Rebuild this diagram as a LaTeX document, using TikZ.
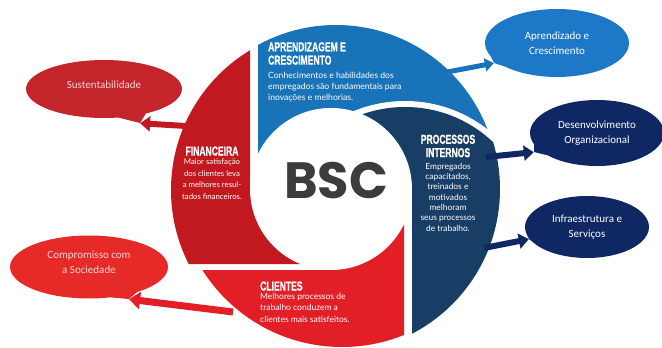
\documentclass[tikz,border=0pt]{standalone}
\usepackage{fontspec}
\usetikzlibrary{shapes.callouts,arrows.meta}
\newfontfamily\titlefont[FakeStretch=0.66,FakeBold=0.8]{Liberation Sans}
\newfontfamily\bodyfont{Lato}
\newfontfamily\bubblefont{Carlito}
\newfontfamily\bscfont{Poppins}
\definecolor{finred}{HTML}{C1191F}
\definecolor{clired}{HTML}{E21E26}
\definecolor{aprblue}{HTML}{1873B9}
\definecolor{prodark}{HTML}{183E65}
\definecolor{susred}{HTML}{C4252B}
\definecolor{comred}{HTML}{E52A27}
\definecolor{bubblue}{HTML}{1D78C8}
\definecolor{navy}{HTML}{0F2763}
\definecolor{bscgray}{HTML}{3C3C3C}
\definecolor{pinktext}{HTML}{F6D6D6}
\tikzset{
  ptitle/.style={font=\titlefont\bfseries\fontsize{13}{13.4}\selectfont, text=white, inner sep=0pt},
  pbody/.style={font=\bodyfont\fontsize{8.6}{11}\selectfont, text=white, inner sep=0pt},
  bubble/.style={ellipse callout, callout pointer arc=22, inner sep=0pt, align=center,
    font=\bubblefont\fontsize{11}{15}\selectfont},
  blockarrow/.style={line width=6pt, -{Triangle[width=15pt,length=10pt]}},
}
\begin{document}
\begin{tikzpicture}[x=1pt,y=-1pt]
\useasboundingbox (0,0) rectangle (662,348);
% ---- pinwheel pieces ----
\begin{scope}
  \clip (0,0) -- (250,0) -- (250,189) -- (331,189) -- (331,264) -- (0,264) -- cycle;
  \fill[finred] (334,190) circle[radius=163pt];
\end{scope}
\begin{scope}
  \clip (258,0) rectangle (700,189);
  \fill[aprblue] (336,187) circle[radius=162pt];
\end{scope}
\begin{scope}
  \clip (331,0) rectangle (700,400);
  \fill[white] (405,235) circle[radius=134pt];
\end{scope}
\begin{scope}
  \clip (331,0) -- (700,0) -- (700,400) -- (412,400) -- (412,189) -- (331,189) -- cycle;
  \clip (405,235) circle[radius=128pt];
  \fill[prodark] (337,189) circle[radius=163pt];
\end{scope}
\begin{scope}
  \clip (0,270) -- (331,270) -- (331,189) -- (404,189) -- (404,400) -- (0,400) -- cycle;
  \fill[clired] (342,182) circle[radius=165pt];
\end{scope}
\fill[white] (331,189) circle[radius=81pt];
% ---- centre ----
\node[font=\bscfont\bfseries\fontsize{51}{51}\selectfont, text=bscgray, anchor=base, inner sep=0pt] (bsc) at (336,198) {BSC};
% ---- piece texts ----
\node[ptitle, anchor=north west, align=left] (aprT) at (268,42) {APRENDIZAGEM E\\CRESCIMENTO};
\node[pbody, anchor=north west, align=left] (aprB) at (268,71.5) {Conhecimentos e habilidades dos\\empregados são fundamentais para\\inovações e melhorias.};
\node[ptitle, anchor=north, align=center] (proT) at (448,134.5) {PROCESSOS\\INTERNOS};
\node[pbody, anchor=north, align=center, font=\bodyfont\fontsize{8.4}{10.3}\selectfont] (proB) at (448,163) {Empregados\\capacitados,\\treinados e\\motivados\\melhoram\\seus processos\\de trabalho.};
\node[ptitle, anchor=base] (finT) at (212,155.5) {FINANCEIRA};
\node[pbody, anchor=north, align=center, font=\bodyfont\fontsize{7.8}{11.5}\selectfont] (finB) at (212,159) {Maior satisfação\\dos clientes leva\\a melhores resul-\\tados financeiros.};
\node[ptitle, anchor=base west] (cliT) at (260,290.5) {CLIENTES};
\node[pbody, anchor=north west, align=left, font=\bodyfont\fontsize{8.5}{11.3}\selectfont] (cliB) at (260,293) {Melhores processos de\\trabalho conduzem a\\clientes mais satisfeitos.};
% ---- callouts ----
\node[bubble, fill=susred, text=pinktext, minimum width=156pt, minimum height=58pt,
  text height=7pt, text depth=9pt,
  callout absolute pointer={(140,123)}] (sus) at (104,89) {Sustentabilidade};
\node[bubble, fill=comred, text=pinktext, minimum width=158pt, minimum height=63pt,
  text depth=9pt,
  callout absolute pointer={(129,299)}] (com) at (89,267) {Compromisso com\\a Sociedade};
\node[bubble, fill=bubblue, text=white, minimum width=144pt, minimum height=68pt,
  callout absolute pointer={(494,63)}] (apr) at (557,43) {Aprendizado e\\Crescimento};
\node[bubble, fill=navy, text=white, minimum width=134pt, minimum height=66pt,
  callout absolute pointer={(534,152)}] (des) at (597,133) {Desenvolvimento\\Organizacional};
\node[bubble, fill=navy, text=white, minimum width=124pt, minimum height=62pt,
  callout absolute pointer={(529,239)}] (inf) at (587,227) {Infraestrutura e\\Serviços};
% ---- arrows ----
\coordinate (finOut) at (186,126);
\coordinate (cliOut) at (233,312);
\coordinate (aprOut) at (442,73);
\coordinate (proOut1) at (486,157);
\coordinate (proOut2) at (484,248);
\draw[blockarrow, draw=finred, fill=finred] (finOut) -- (sus.pointer);
\draw[blockarrow, draw=clired, fill=clired, line width=7pt, -{Triangle[width=17pt,length=11pt]}] (cliOut) -- (com.pointer);
\draw[blockarrow, draw=aprblue, fill=aprblue, line width=5pt, -{Triangle[width=13pt,length=9pt]}] (aprOut) -- (apr.pointer);
\draw[blockarrow, draw=navy, fill=navy] (proOut1) -- (des.pointer);
\draw[blockarrow, draw=navy, fill=navy] (proOut2) -- (inf.pointer);
\end{tikzpicture}
\end{document}
